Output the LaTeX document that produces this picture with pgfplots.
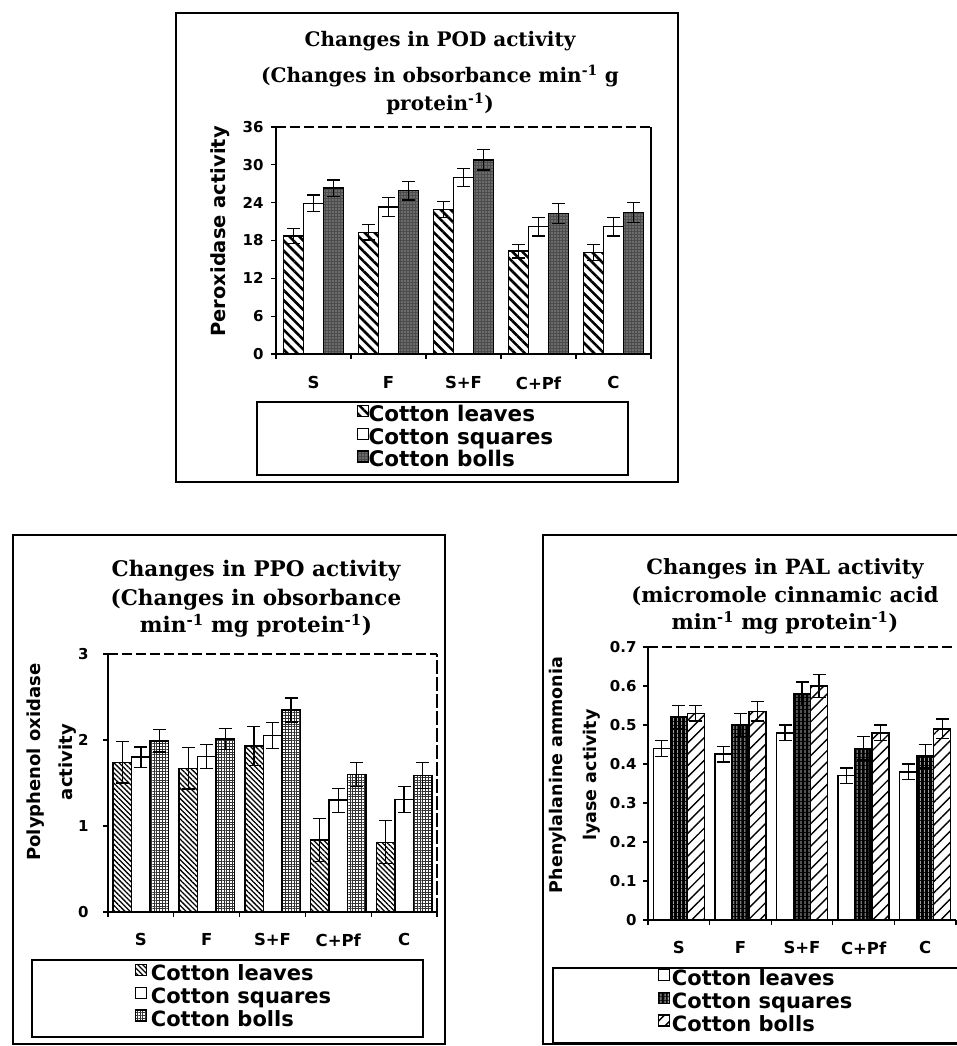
\documentclass[border=0pt]{standalone}
\usepackage{fontspec}
\setmainfont{DejaVu Serif}
\newfontfamily\sansf{DejaVu Sans}
\usepackage{pgfplots}
\pgfplotsset{compat=1.18}
\usetikzlibrary{patterns,patterns.meta}

\newcommand\fs[2]{\fontsize{#1}{#2}\selectfont}
\newcommand\myup[1]{\textsuperscript{#1}}

\pgfplotsset{
  panel/.style={
    scale only axis, anchor=south west,
    xmin=-0.5, xmax=4.5, ymin=0,
    axis x line*=bottom, axis y line*=left,
    axis line style={line width=1.6pt,-},
    tick align=outside, major tick length=5pt,
    tick style={line width=1.3pt,black},
    xtick={-0.5,0.5,1.5,2.5,3.5,4.5}, x tick label as interval,
    xticklabels={S,F,S+F,C+Pf,C},
    ybar=0pt, clip=false,
    legend cell align=left,
    legend style={draw=none, fill=none, anchor=north west, inner sep=0pt,
      row sep=0pt, column sep=-4.5pt,
      nodes={inner sep=0pt, text height=15pt, text depth=6pt}},
    legend image code/.code={\draw[##1,line width=1.2pt] (0pt,0.5pt) rectangle (11pt,11.5pt);},
    error bars/y dir=both, error bars/y explicit,
    error bars/error bar style={line width=1.3pt,black,solid},
    error bars/error mark options={rotate=90,mark size=6.5pt,line width=1.3pt,black},
  },
  bbar/.style={draw=black, line width=1.5pt},
}

\begin{document}
\begin{tikzpicture}[x=1pt,y=1pt]
\useasboundingbox (0,0) rectangle (957,1046);

% panel frames
\draw[line width=1.5pt] (176,564) rectangle (678,1033);
\draw[line width=1.5pt] (257,571) rectangle (628,644);
\draw[line width=1.5pt] (13,2) rectangle (445,511);
\draw[line width=1.5pt] (32,9) rectangle (423,86);
\draw[line width=1.5pt] (543,2) rectangle (962,511);
\draw[line width=1.5pt] (553,3) rectangle (962,78);

% titles
\node[anchor=base,font=\bfseries\fs{20}{20}] at (440,999) {Changes in POD activity};
\node[anchor=base,font=\bfseries\fs{20}{20}] at (440,963) {(Changes in obsorbance min\myup{-1} g};
\node[anchor=base,font=\bfseries\fs{20}{20}] at (440,935) {protein\myup{-1})};

\node[anchor=base,font=\bfseries\fs{21.5}{21.5}] at (256,469) {Changes in PPO activity};
\node[anchor=base,font=\bfseries\fs{21.5}{21.5}] at (256,440) {(Changes in obsorbance};
\node[anchor=base,font=\bfseries\fs{21.5}{21.5}] at (256,413) {min\myup{-1} mg protein\myup{-1})};

\node[anchor=base,font=\bfseries\fs{21}{21}] at (785,471) {Changes in PAL activity};
\node[anchor=base,font=\bfseries\fs{21}{21}] at (785,443) {(micromole cinnamic acid};
\node[anchor=base,font=\bfseries\fs{21}{21}] at (785,416) {min\myup{-1} mg protein\myup{-1})};

% ---------------- POD ----------------
\begin{axis}[panel, at={(276pt,692pt)}, width=375pt, height=227pt,
  ymax=36, ytick={0,6,12,18,24,30,36}, yticklabels={0,6,12,18,24,30,36},
  bar width=20pt,
  xticklabel style={font=\sansf\bfseries\fs{16.5}{16.5}, yshift=-14pt},
  yticklabel style={font=\sansf\bfseries\fs{15}{15}, xshift=-4pt},
  ylabel={Peroxidase activity},
  ylabel style={at={(rel axis cs:-0.15,0.54)}, anchor=center, font=\sansf\bfseries\fs{19.5}{19.5}},
  legend style={at={(0.215,-0.2247)}, font=\sansf\bfseries\fs{21.5}{21.5}},
]
\addplot[bbar, fill=white, postaction={pattern color=black, pattern={Lines[angle=-45,distance=7pt,line width=2.6pt]}}]
  coordinates {(0,18.7)+-(0,1.2) (1,19.3)+-(0,1.2) (2,22.9)+-(0,1.3) (3,16.3)+-(0,1.1) (4,16.1)+-(0,1.3)};
\addplot[bbar, fill=white]
  coordinates {(0,23.9)+-(0,1.3) (1,23.3)+-(0,1.5) (2,28.0)+-(0,1.4) (3,20.2)+-(0,1.5) (4,20.2)+-(0,1.5)};
\addplot[bbar, fill=black!70, postaction={pattern color=white!85!black, pattern={Dots[distance=3pt,radius=0.6pt]}}]
  coordinates {(0,26.3)+-(0,1.3) (1,25.9)+-(0,1.5) (2,30.8)+-(0,1.6) (3,22.3)+-(0,1.6) (4,22.4)+-(0,1.6)};
\legend{\hspace*{4pt}Cotton leaves,\hspace*{4pt}Cotton squares,\hspace*{4pt}Cotton bolls}
\draw[line width=1.2pt, dash pattern=on 10pt off 4pt] (rel axis cs:0,1) -- (rel axis cs:1,1);
\draw[line width=1.3pt] (rel axis cs:1,0) -- (rel axis cs:1,1);
\end{axis}

% ---------------- PPO ----------------
\begin{axis}[panel, at={(108pt,134pt)}, width=329pt, height=258pt,
  ymax=3, ytick={0,1,2,3}, yticklabels={0,1,2,3},
  bar width=18.5pt,
  xticklabel style={font=\sansf\bfseries\fs{16.5}{16.5}, yshift=-13pt},
  yticklabel style={font=\sansf\bfseries\fs{15}{15}, xshift=-11pt},
  ylabel={Polyphenol oxidase\\activity},
  ylabel style={at={(rel axis cs:-0.170,0.581)}, anchor=center, align=center, font=\sansf\bfseries\fs{18}{32}},
  legend style={at={(0.082,-0.2016)}, font=\sansf\bfseries\fs{21}{21}},
]
\addplot[bbar, fill=white, postaction={pattern color=black, pattern={Lines[angle=-45,distance=3.6pt,line width=1.3pt]}}]
  coordinates {(0,1.74)+-(0,0.24) (1,1.67)+-(0,0.24) (2,1.93)+-(0,0.23) (3,0.84)+-(0,0.25) (4,0.81)+-(0,0.25)};
\addplot[bbar, fill=white]
  coordinates {(0,1.80)+-(0,0.12) (1,1.81)+-(0,0.14) (2,2.05)+-(0,0.15) (3,1.30)+-(0,0.14) (4,1.31)+-(0,0.15)};
\addplot[bbar, fill=white, postaction={pattern color=black!80, pattern={Hatch[angle=0,distance=2.8pt,line width=0.8pt]}}]
  coordinates {(0,1.99)+-(0,0.13) (1,2.01)+-(0,0.12) (2,2.35)+-(0,0.14) (3,1.60)+-(0,0.14) (4,1.59)+-(0,0.15)};
\legend{\hspace*{8pt}Cotton leaves,\hspace*{8pt}Cotton squares,\hspace*{8pt}Cotton bolls}
\draw[line width=1.2pt, dash pattern=on 10pt off 4pt] (rel axis cs:0,1) -- (rel axis cs:1,1);
\draw[line width=1.2pt, dash pattern=on 14pt off 3pt] (rel axis cs:1,0) -- (rel axis cs:1,1);
\end{axis}

% ---------------- PAL ----------------
\begin{axis}[panel, at={(648pt,126pt)}, width=308pt, height=273pt,
  ymax=0.7, ytick={0,0.1,0.2,0.3,0.4,0.5,0.6,0.7},
  yticklabels={0,0.1,0.2,0.3,0.4,0.5,0.6,0.7},
  bar width=17pt,
  xticklabel style={font=\sansf\bfseries\fs{16.5}{16.5}, yshift=-13pt},
  yticklabel style={font=\sansf\bfseries\fs{15}{15}, xshift=-3pt},
  ylabel={Phenylalanine ammonia\\lyase activity},
  ylabel style={at={(rel axis cs:-0.237,0.531)}, anchor=center, align=center, font=\sansf\bfseries\fs{17.5}{34}},
  legend style={at={(0.0325,-0.1795)}, font=\sansf\bfseries\fs{21}{21}},
]
\addplot[bbar, fill=white]
  coordinates {(0,0.44)+-(0,0.02) (1,0.425)+-(0,0.02) (2,0.48)+-(0,0.02) (3,0.37)+-(0,0.02) (4,0.38)+-(0,0.02)};
\addplot[bbar, fill=black, postaction={pattern color=white, pattern={Lines[angle=90,distance=4pt,line width=0.8pt]}}]
  coordinates {(0,0.52)+-(0,0.03) (1,0.50)+-(0,0.03) (2,0.58)+-(0,0.03) (3,0.44)+-(0,0.03) (4,0.42)+-(0,0.03)};
\addplot[bbar, fill=white, postaction={pattern color=black, pattern={Lines[angle=45,distance=8pt,line width=1.4pt]}}]
  coordinates {(0,0.53)+-(0,0.02) (1,0.535)+-(0,0.025) (2,0.60)+-(0,0.03) (3,0.48)+-(0,0.02) (4,0.49)+-(0,0.025)};
\legend{\hspace*{6pt}Cotton leaves,\hspace*{6pt}Cotton squares,\hspace*{6pt}Cotton bolls}
\draw[line width=1.2pt, dash pattern=on 10pt off 4pt] (rel axis cs:0,1) -- (rel axis cs:1,1);
\end{axis}
\end{tikzpicture}
\end{document}
